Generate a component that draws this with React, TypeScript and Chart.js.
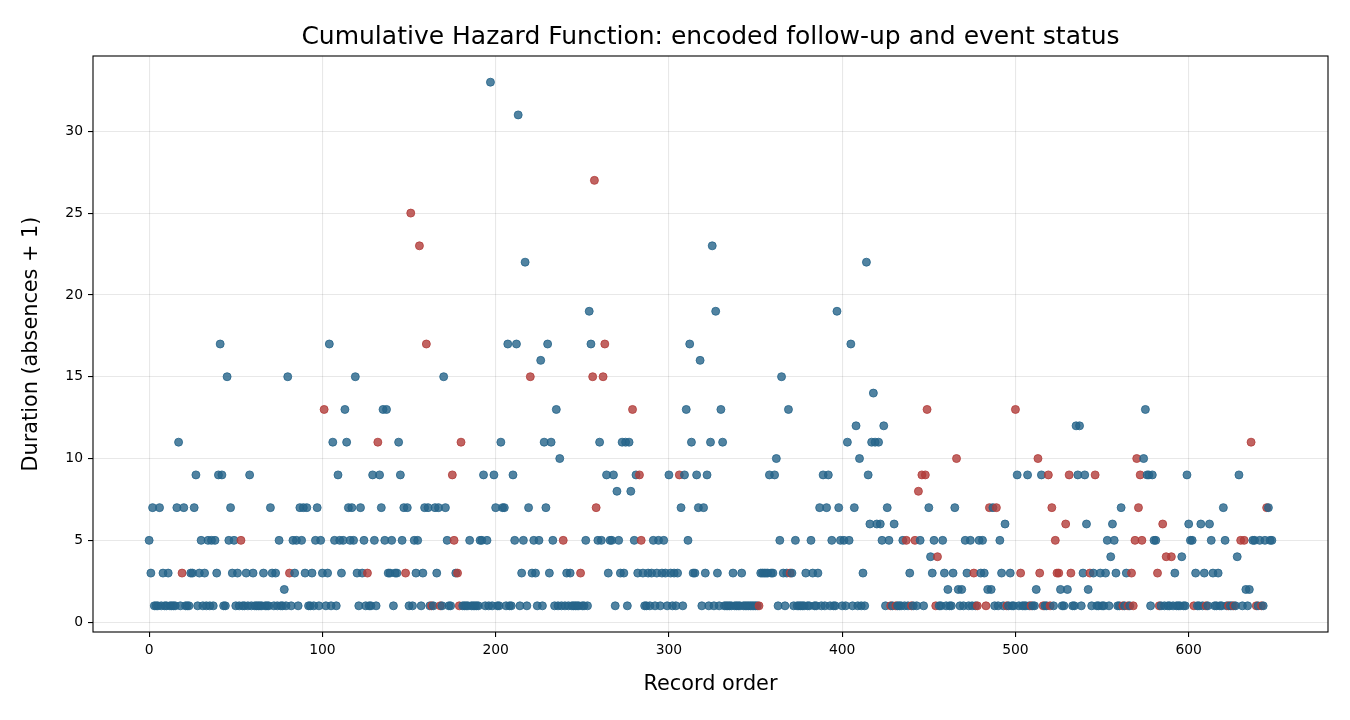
import { useEffect, useRef } from 'react';
import Chart from 'chart.js/auto';

// duration (absences + 1) for each record, in record order (10 per row)
const durations: number[] = [
  5, 3, 7, 1, 1, 1, 7, 1, 3, 1,
  1, 3, 1, 1, 1, 1, 7, 11, 1, 3,
  7, 1, 1, 1, 3, 3, 7, 9, 1, 3,
  5, 1, 3, 1, 5, 1, 5, 1, 5, 3,
  9, 17, 9, 1, 1, 15, 5, 7, 3, 5,
  1, 3, 1, 5, 1, 1, 3, 1, 9, 1,
  3, 1, 1, 1, 1, 1, 3, 1, 1, 1,
  7, 3, 1, 3, 1, 5, 1, 1, 2, 1,
  15, 3, 1, 5, 3, 5, 1, 7, 5, 7,
  3, 7, 1, 1, 3, 1, 5, 7, 1, 5,
  3, 13, 1, 3, 17, 1, 11, 5, 1, 9,
  5, 3, 5, 13, 11, 7, 5, 7, 5, 15,
  3, 1, 7, 3, 5, 1, 3, 1, 1, 9,
  5, 1, 11, 9, 7, 13, 5, 13, 3, 3,
  5, 1, 3, 3, 11, 9, 5, 7, 3, 7,
  1, 25, 1, 5, 3, 5, 23, 1, 3, 7,
  17, 7, 1, 1, 1, 7, 3, 7, 1, 1,
  15, 7, 5, 1, 1, 9, 5, 3, 3, 1,
  11, 1, 1, 1, 1, 5, 1, 1, 1, 1,
  1, 5, 5, 9, 1, 5, 1, 33, 1, 9,
  7, 1, 1, 11, 7, 7, 1, 17, 1, 1,
  9, 5, 17, 31, 1, 3, 5, 22, 1, 7,
  15, 3, 5, 3, 1, 5, 16, 1, 11, 7,
  17, 3, 11, 5, 1, 13, 1, 10, 1, 5,
  1, 3, 1, 3, 1, 1, 1, 1, 1, 3,
  1, 1, 5, 1, 19, 17, 15, 27, 7, 5,
  11, 5, 15, 17, 9, 3, 5, 5, 9, 1,
  8, 5, 3, 11, 3, 11, 1, 11, 8, 13,
  5, 9, 3, 9, 5, 3, 1, 1, 3, 1,
  3, 5, 1, 3, 5, 1, 3, 5, 3, 1,
  9, 3, 1, 3, 1, 3, 9, 7, 1, 9,
  13, 5, 17, 11, 3, 3, 9, 7, 16, 1,
  7, 3, 9, 1, 11, 23, 1, 19, 3, 1,
  13, 11, 1, 1, 1, 1, 1, 3, 1, 1,
  1, 1, 3, 1, 1, 1, 1, 1, 1, 1,
  1, 1, 1, 3, 3, 3, 3, 3, 9, 3,
  3, 9, 10, 1, 5, 15, 3, 1, 3, 13,
  3, 3, 1, 5, 1, 1, 1, 1, 1, 3,
  1, 1, 5, 3, 1, 1, 3, 7, 1, 9,
  1, 7, 9, 1, 5, 1, 1, 19, 7, 5,
  1, 5, 1, 11, 5, 17, 1, 7, 12, 1,
  10, 1, 3, 1, 22, 9, 6, 11, 14, 11,
  6, 11, 6, 5, 12, 1, 7, 5, 1, 1,
  6, 1, 1, 1, 1, 5, 1, 5, 1, 3,
  1, 1, 5, 1, 8, 5, 9, 1, 9, 13,
  7, 4, 3, 5, 1, 4, 1, 1, 5, 3,
  1, 2, 1, 1, 3, 7, 10, 2, 1, 2,
  1, 5, 3, 1, 5, 1, 3, 1, 1, 5,
  3, 5, 3, 1, 2, 7, 2, 7, 1, 7,
  1, 5, 3, 1, 6, 1, 1, 3, 1, 1,
  13, 9, 1, 3, 1, 1, 1, 9, 1, 1,
  1, 1, 2, 10, 3, 9, 1, 1, 1, 9,
  1, 7, 1, 5, 3, 3, 2, 1, 1, 6,
  2, 9, 3, 1, 1, 12, 9, 12, 1, 3,
  9, 6, 2, 3, 1, 3, 9, 1, 1, 3,
  1, 1, 3, 5, 1, 4, 6, 5, 3, 1,
  1, 7, 1, 1, 3, 1, 1, 3, 1, 5,
  10, 7, 9, 5, 10, 13, 9, 9, 1, 9,
  5, 5, 3, 1, 1, 6, 1, 4, 1, 1,
  4, 1, 3, 1, 1, 1, 4, 1, 1, 9,
  6, 5, 5, 1, 3, 1, 1, 6, 1, 3,
  1, 1, 6, 5, 3, 1, 1, 3, 1, 1,
  7, 5, 1, 1, 1, 1, 1, 1, 4, 9,
  5, 1, 5, 2, 1, 2, 11, 5, 5, 1,
  1, 5, 1, 1, 5, 7, 7, 5, 5,
];

// records whose event status is 1 (drawn in red)
const eventRecords: number[] = [
  19, 53, 81, 101, 126, 132, 148, 151, 156, 160,
  163, 168, 175, 176, 178, 179, 180, 220, 239, 249,
  256, 257, 258, 262, 263, 279, 283, 284, 306, 352,
  370, 428, 431, 437, 440, 442, 444, 446, 448, 449,
  454, 455, 466, 476, 478, 483, 485, 489, 495, 500,
  503, 509, 513, 514, 516, 519, 520, 521, 523, 524,
  525, 529, 531, 532, 543, 546, 562, 565, 567, 568,
  569, 570, 571, 572, 573, 582, 583, 585, 587, 590,
  603, 610, 623, 626, 630, 632, 636, 639, 642, 645,
];

const xTicks = [0, 100, 200, 300, 400, 500, 600];
const yTicks = [0, 5, 10, 15, 20, 25, 30];

const TITLE = 'Cumulative Hazard Function: encoded follow-up and event status';
const CENSORED_COLOR = 'rgba(38, 100, 138, 0.8)';
const EVENT_COLOR = 'rgba(178, 60, 58, 0.8)';
const FONT = 'DejaVu Sans';
const TICK_SIZE = 13.9;
const LABEL_SIZE = 20.8;

// black box around the plot area (matplotlib spines) + title centred over the axes
const framePlugin = {
  id: 'frame',
  afterDatasetsDraw(chart: Chart) {
    const { ctx, chartArea } = chart;
    ctx.save();
    ctx.strokeStyle = '#000';
    ctx.lineWidth = 1.1;
    ctx.strokeRect(chartArea.left, chartArea.top, chartArea.right - chartArea.left, chartArea.bottom - chartArea.top);
    ctx.fillStyle = '#000';
    ctx.font = `25px "${FONT}"`;
    ctx.textAlign = 'center';
    ctx.textBaseline = 'alphabetic';
    ctx.fillText(TITLE, (chartArea.left + chartArea.right) / 2, chartArea.top - 12);
    ctx.restore();
  },
};

export default function App() {
  const canvasRef = useRef<HTMLCanvasElement>(null);

  useEffect(() => {
    if (!canvasRef.current) return;

    const eventSet = new Set(eventRecords);
    const points = durations.map((d, i) => ({ x: i, y: d }));
    const colors = durations.map((_, i) => (eventSet.has(i) ? EVENT_COLOR : CENSORED_COLOR));

    // matplotlib-style 5% margins
    const xMaxData = durations.length - 1;
    const yMinData = Math.min(...durations);
    const yMaxData = Math.max(...durations);
    const xPad = xMaxData * 0.05;
    const yPad = (yMaxData - yMinData) * 0.05;

    const chart = new Chart(canvasRef.current, {
      type: 'scatter',
      data: {
        datasets: [
          {
            data: points,
            pointRadius: 4,
            pointBorderWidth: 1,
            pointBackgroundColor: colors,
            pointBorderColor: colors,
          },
        ],
      },
      options: {
        responsive: false,
        animation: false,
        events: [],
        layout: { padding: { left: 0, right: 22, top: 56, bottom: 0 } },
        plugins: {
          legend: { display: false },
          tooltip: { enabled: false },
          title: { display: false },
        },
        scales: {
          x: {
            type: 'linear',
            min: -xPad,
            max: xMaxData + xPad,
            afterBuildTicks: (scale) => {
              scale.ticks = xTicks.map((v) => ({ value: v }));
            },
            afterFit: (scale) => {
              scale.height = 88;
            },
            grid: {
              color: 'rgba(0, 0, 0, 0.09)',
              lineWidth: 1.1,
              tickColor: '#000',
              tickLength: 5,
              tickWidth: 1.1,
            },
            border: { display: false },
            ticks: {
              color: '#000',
              padding: 5,
              maxRotation: 0,
              font: { family: FONT, size: TICK_SIZE },
            },
            title: {
              display: true,
              text: 'Record order',
              color: '#000',
              font: { family: FONT, size: LABEL_SIZE },
              padding: { top: 0, bottom: 22.5 },
            },
          },
          y: {
            type: 'linear',
            min: yMinData - yPad,
            max: yMaxData + yPad,
            afterBuildTicks: (scale) => {
              scale.ticks = yTicks.map((v) => ({ value: v }));
            },
            afterFit: (scale) => {
              scale.width = 93;
            },
            grid: {
              color: 'rgba(0, 0, 0, 0.09)',
              lineWidth: 1.1,
              tickColor: '#000',
              tickLength: 5,
              tickWidth: 1.1,
            },
            border: { display: false },
            ticks: {
              color: '#000',
              padding: 5,
              font: { family: FONT, size: TICK_SIZE },
            },
            title: {
              display: true,
              text: 'Duration (absences + 1)',
              color: '#000',
              font: { family: FONT, size: LABEL_SIZE },
              padding: { top: 19.5, bottom: 0 },
            },
          },
        },
      },
      plugins: [framePlugin],
    });

    return () => {
      chart.destroy();
    };
  }, []);

  return (
    <div style={{ position: 'fixed', left: 0, top: 0, width: 1350, height: 720, background: '#fff' }}>
      <canvas ref={canvasRef} width={1350} height={720} />
    </div>
  );
}
